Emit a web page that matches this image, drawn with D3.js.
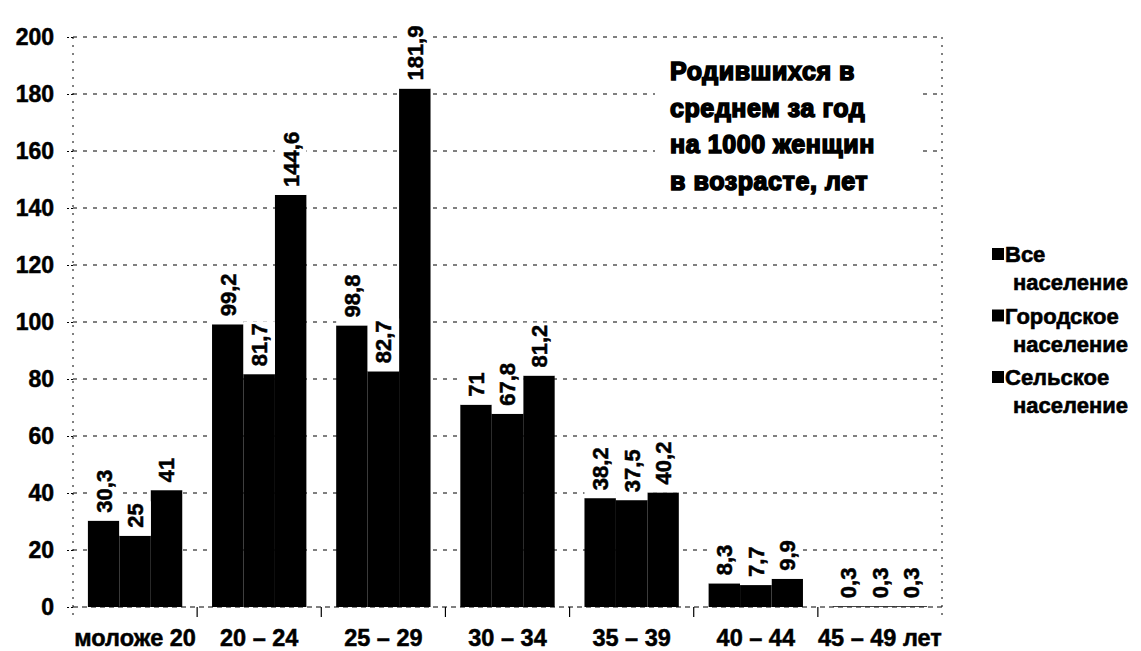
<!DOCTYPE html>
<html>
<head>
<meta charset="utf-8">
<script src="https://cdn.jsdelivr.net/npm/d3@7"></script>
<style>
  html, body { margin: 0; padding: 0; background: #fff; }
  svg { display: block; }
  text { font-family: "Liberation Sans", Arial, sans-serif; font-weight: bold; fill: #000; }
</style>
</head>
<body>
<svg id="chart" width="1141" height="651"></svg>
<script>
// Age groups of mothers
const categories = ["моложе 20", "20 – 24", "25 – 29", "30 – 34", "35 – 39", "40 – 44", "45 – 49 лет"];
// Births per 1000 women of given age, per year
const allPop   = [30.3, 99.2, 98.8, 71, 38.2, 8.3, 0.3];
const urbanPop = [25, 81.7, 82.7, 67.8, 37.5, 7.7, 0.3];
const ruralPop = [41, 144.6, 181.9, 81.2, 40.2, 9.9, 0.3];
const seriesNames = ["Все население", "Городское население", "Сельское население"];
const legendLines = [["Все", "население"], ["Городское", "население"], ["Сельское", "население"]];
const yTicks = [0, 20, 40, 60, 80, 100, 120, 140, 160, 180, 200];
const titleLines = ["Родившихся в", "среднем за год", "на 1000 женщин", "в возрасте, лет"];

const series = [allPop, urbanPop, ruralPop];
const rows = categories.map((c, i) => ({ cat: c, values: series.map(s => s[i]) }));

const svg = d3.select("#chart");
const plot = { left: 73, right: 942, top: 37, bottom: 607 };

const x = d3.scaleBand().domain(categories).range([plot.left, plot.right])
  .paddingInner(0.24).paddingOuter(0.12);
const xSub = d3.scaleBand().domain(d3.range(series.length)).range([0, x.bandwidth()]);
const y = d3.scaleLinear().domain([0, 200]).range([plot.bottom, plot.top]);

const fmt = v => String(v).replace(".", ",");

// dotted horizontal gridlines
svg.append("g").selectAll("line").data(yTicks.filter(t => t > 0)).join("line")
  .attr("x1", plot.left).attr("x2", plot.right)
  .attr("y1", d => y(d)).attr("y2", d => y(d))
  .attr("stroke", "#000").attr("stroke-width", 1)
  .attr("stroke-dasharray", "4,6");

// dotted plot frame: left axis and right edge
[plot.left, plot.right].forEach(xx => {
  svg.append("line").attr("x1", xx).attr("x2", xx)
    .attr("y1", plot.top).attr("y2", plot.bottom + 8)
    .attr("stroke", "#000").attr("stroke-width", 1).attr("stroke-dasharray", "2,6");
});

// y axis
const yAxis = d3.axisLeft(y).tickValues(yTicks).tickSize(8).tickPadding(11);
const gy = svg.append("g").attr("transform", `translate(${plot.left},0)`).call(yAxis);
gy.select(".domain").remove();
gy.selectAll(".tick line").attr("stroke", "#000").attr("stroke-dasharray", "2,2");
gy.selectAll(".tick text").style("font-size", "23px")
  .style("font-family", "'Liberation Sans', Arial, sans-serif").style("font-weight", "bold")
  .attr("stroke", "#000").attr("stroke-width", 0.5);

// baseline and category separators
svg.append("line").attr("x1", plot.left).attr("x2", plot.right)
  .attr("y1", plot.bottom).attr("y2", plot.bottom)
  .attr("stroke", "#000").attr("stroke-width", 1).attr("stroke-dasharray", "5,4");
const seps = categories.slice(1).map(c => x(c) - x.step() * x.paddingInner() / 2);
svg.append("g").selectAll("line").data(seps).join("line")
  .attr("x1", d => d).attr("x2", d => d)
  .attr("y1", plot.bottom).attr("y2", plot.bottom + 10)
  .attr("stroke", "#000").attr("stroke-width", 1.2);

// x labels
const xAxis = d3.axisBottom(x).tickSize(0).tickPadding(22);
const gx = svg.append("g").attr("transform", `translate(0,${plot.bottom})`).call(xAxis);
gx.select(".domain").remove();
gx.selectAll(".tick text").style("font-size", "23.5px")
  .style("font-family", "'Liberation Sans', Arial, sans-serif").style("font-weight", "bold")
  .attr("stroke", "#000").attr("stroke-width", 0.5);

// bars
const groups = svg.append("g").selectAll("g").data(rows).join("g")
  .attr("transform", d => `translate(${x(d.cat)},0)`);

groups.selectAll("rect.bar").data(d => d.values.map((v, i) => ({ v, i }))).join("rect")
  .attr("class", "bar")
  .attr("x", d => xSub(d.i)).attr("width", xSub.bandwidth())
  .attr("y", d => y(d.v)).attr("height", d => y(0) - y(d.v))
  .attr("fill", "#000");

// value labels, rotated, on white plates above each bar
const labelFont = 22, gap = 8;
const lab = groups.selectAll("g.lab").data(d => d.values.map((v, i) => ({ v, i }))).join("g")
  .attr("class", "lab")
  .attr("transform", d => `translate(${xSub(d.i) + xSub.bandwidth() / 2},${y(d.v) - gap}) rotate(-90)`);
lab.append("text")
  .attr("x", 0).attr("y", 0)
  .attr("dy", "0.36em")
  .style("font-size", labelFont + "px")
  .attr("stroke", "#000").attr("stroke-width", 0.5)
  .text(d => fmt(d.v));
lab.each(function () {
  const g = d3.select(this);
  const w = g.select("text").node().getComputedTextLength();
  g.insert("rect", "text")
    .attr("x", -gap).attr("y", -xSub.bandwidth() / 2)
    .attr("width", w + gap + 2).attr("height", xSub.bandwidth())
    .attr("fill", "#fff");
});

// caption block inside the plot
const cap = svg.append("g");
cap.append("rect").attr("x", 655).attr("y", 52).attr("width", 268).attr("height", 150).attr("fill", "#fff");
cap.selectAll("text").data(titleLines).join("text")
  .attr("x", 670).attr("y", (d, i) => 80 + i * 36.7)
  .style("font-size", "25px")
  .style("letter-spacing", "0.6px")
  .attr("stroke", "#000").attr("stroke-width", 1.6)
  .text(d => d);

// legend
const leg = svg.append("g").attr("transform", "translate(991,0)");
const legItems = leg.selectAll("g").data(seriesNames).join("g")
  .attr("transform", (d, i) => `translate(0,${262 + i * 61.5})`);
legItems.append("rect").attr("x", 1).attr("y", -14).attr("width", 12).attr("height", 12).attr("fill", "#000");
legItems.selectAll("text").data((d, i) => legendLines[i]).join("text")
  .attr("x", (d, j) => j === 0 ? 14 : 22).attr("y", (d, j) => j * 28)
  .style("font-size", "22px")
  .attr("stroke", "#000").attr("stroke-width", 0.6)
  .text(d => d);
</script>
</body>
</html>
